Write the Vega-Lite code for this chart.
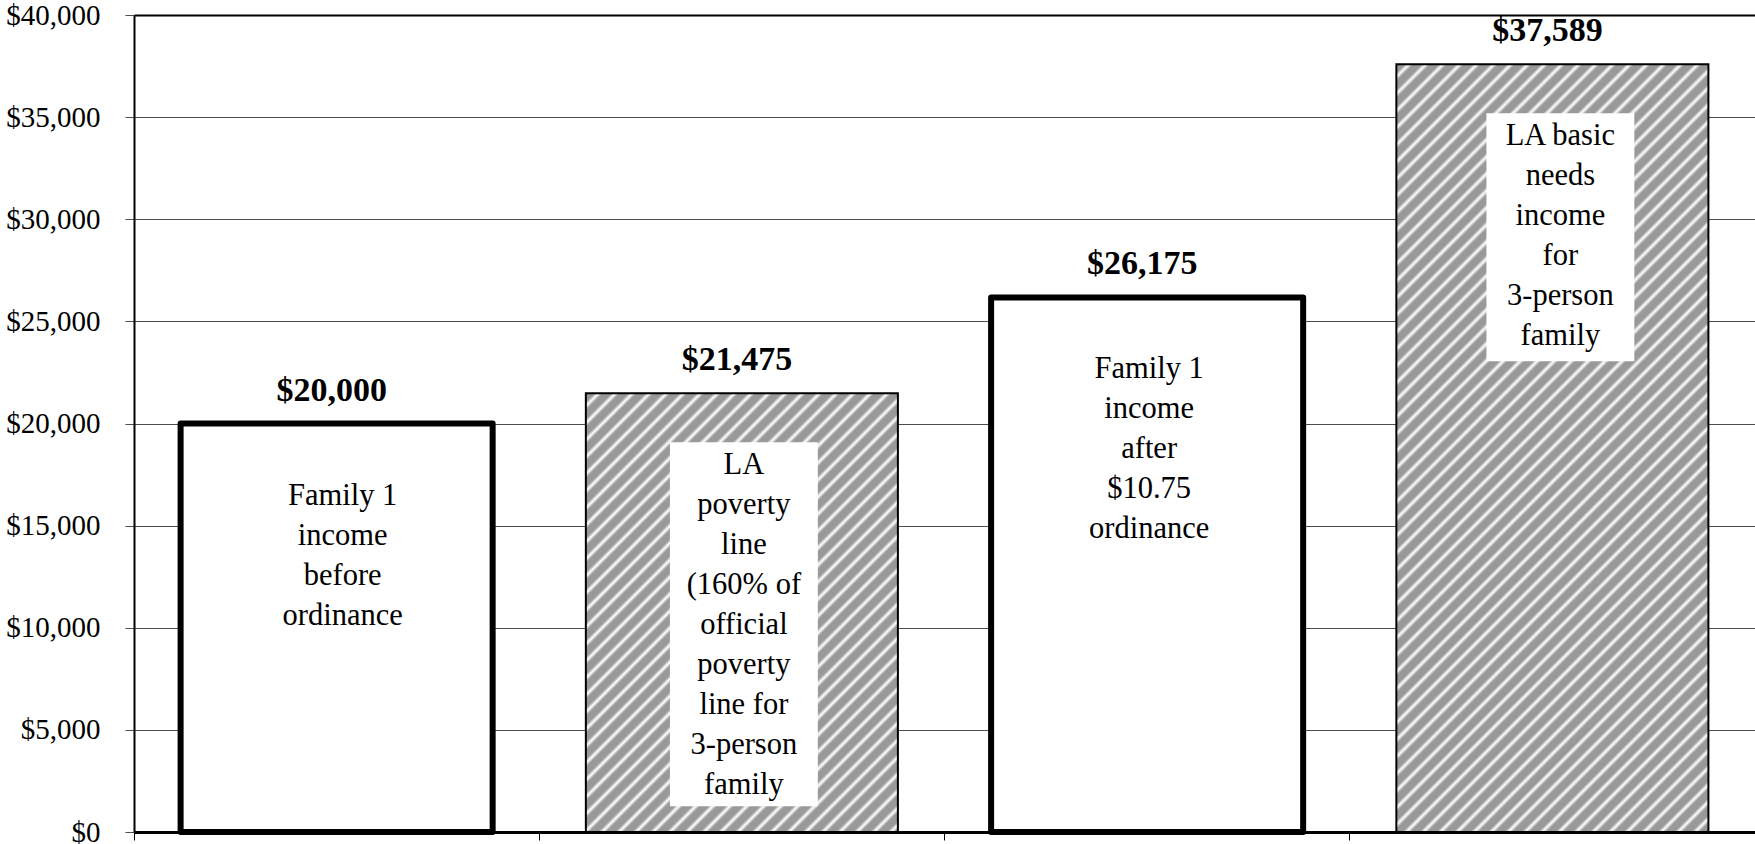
{
  "$schema": "https://vega.github.io/schema/vega-lite/v6.json",
  "width": 1621,
  "height": 817,
  "autosize": {"type": "none"},
  "padding": {"left": 134, "top": 15, "right": 0, "bottom": 12},
  "background": "white",
  "config": {"view": {"stroke": null}, "font": "Liberation Serif"},
  "data": {
    "values": [
      {"category": "Family 1 income before ordinance", "kind": "family", "value": 20000, "label": "Family 1\nincome\nbefore\nordinance"},
      {"category": "LA poverty line", "kind": "benchmark", "value": 21475, "label": "LA\npoverty\nline\n(160% of\nofficial\npoverty\nline for\n3-person\nfamily"},
      {"category": "Family 1 income after $10.75 ordinance", "kind": "family", "value": 26175, "label": "Family 1\nincome\nafter\n$10.75\nordinance"},
      {"category": "LA basic needs income", "kind": "benchmark", "value": 37589, "label": "LA basic\nneeds\nincome\nfor\n3-person\nfamily"}
    ]
  },
  "encoding": {
    "x": {
      "field": "category", "type": "nominal", "sort": null,
      "scale": {"domain": ["Family 1 income before ordinance", "LA poverty line", "Family 1 income after $10.75 ordinance", "LA basic needs income"], "paddingInner": 0, "paddingOuter": 0},
      "axis": {"title": null, "labels": false, "bandPosition": 0, "ticks": true, "tickSize": 8, "tickColor": "black", "tickWidth": 1, "domainColor": "black", "domainWidth": 3, "grid": false}
    },
    "y": {
      "field": "value", "type": "quantitative",
      "scale": {"domain": [0, 40000], "nice": false, "zero": true},
      "axis": {
        "title": null,
        "values": [0, 5000, 10000, 15000, 20000, 25000, 30000, 35000, 40000],
        "format": "$,.0f",
        "labelFont": "Liberation Serif", "labelFontSize": 29, "labelColor": "black",
        "labelPadding": 25, "labelFlush": false, "labelOverlap": false,
        "tickSize": 9, "tickColor": "#4d4d4d",
        "domainColor": "black", "domainWidth": 2,
        "grid": true,
        "gridColor": {"condition": {"test": "datum.value === 40000", "value": "black"}, "value": "#4d4d4d"},
        "gridWidth": {"condition": {"test": "datum.value === 40000", "value": 2}, "value": 1}
      }
    }
  },
  "layer": [
    {
      "transform": [{"filter": "datum.kind === 'family'"}],
      "mark": {"type": "bar", "width": {"band": 0.77}, "fill": "white", "stroke": "black", "strokeWidth": 6, "strokeJoin": "round"}
    },
    {
      "transform": [{"filter": "datum.category === 'LA poverty line'"}],
      "mark": {
        "type": "bar", "width": {"band": 0.77}, "stroke": "black", "strokeWidth": 2,
        "fill": {
          "gradient": "linear", "x1": 0, "y1": 0, "x2": 1.8312, "y2": 2.5726,
          "stops": [
            {"offset":0,"color":"#999"},{"offset":0.005,"color":"#999"},{"offset":0.0075,"color":"#fff"},
            {"offset":0.01,"color":"#999"},{"offset":0.015,"color":"#999"},{"offset":0.0175,"color":"#fff"},
            {"offset":0.02,"color":"#999"},{"offset":0.025,"color":"#999"},{"offset":0.0275,"color":"#fff"},
            {"offset":0.03,"color":"#999"},{"offset":0.035,"color":"#999"},{"offset":0.0375,"color":"#fff"},
            {"offset":0.04,"color":"#999"},{"offset":0.045,"color":"#999"},{"offset":0.0475,"color":"#fff"},
            {"offset":0.05,"color":"#999"},{"offset":0.055,"color":"#999"},{"offset":0.0575,"color":"#fff"},
            {"offset":0.06,"color":"#999"},{"offset":0.065,"color":"#999"},{"offset":0.0675,"color":"#fff"},
            {"offset":0.07,"color":"#999"},{"offset":0.075,"color":"#999"},{"offset":0.0775,"color":"#fff"},
            {"offset":0.08,"color":"#999"},{"offset":0.085,"color":"#999"},{"offset":0.0875,"color":"#fff"},
            {"offset":0.09,"color":"#999"},{"offset":0.095,"color":"#999"},{"offset":0.0975,"color":"#fff"},
            {"offset":0.1,"color":"#999"},{"offset":0.105,"color":"#999"},{"offset":0.1075,"color":"#fff"},
            {"offset":0.11,"color":"#999"},{"offset":0.115,"color":"#999"},{"offset":0.1175,"color":"#fff"},
            {"offset":0.12,"color":"#999"},{"offset":0.125,"color":"#999"},{"offset":0.1275,"color":"#fff"},
            {"offset":0.13,"color":"#999"},{"offset":0.135,"color":"#999"},{"offset":0.1375,"color":"#fff"},
            {"offset":0.14,"color":"#999"},{"offset":0.145,"color":"#999"},{"offset":0.1475,"color":"#fff"},
            {"offset":0.15,"color":"#999"},{"offset":0.155,"color":"#999"},{"offset":0.1575,"color":"#fff"},
            {"offset":0.16,"color":"#999"},{"offset":0.165,"color":"#999"},{"offset":0.1675,"color":"#fff"},
            {"offset":0.17,"color":"#999"},{"offset":0.175,"color":"#999"},{"offset":0.1775,"color":"#fff"},
            {"offset":0.18,"color":"#999"},{"offset":0.185,"color":"#999"},{"offset":0.1875,"color":"#fff"},
            {"offset":0.19,"color":"#999"},{"offset":0.195,"color":"#999"},{"offset":0.1975,"color":"#fff"},
            {"offset":0.2,"color":"#999"},{"offset":0.205,"color":"#999"},{"offset":0.2075,"color":"#fff"},
            {"offset":0.21,"color":"#999"},{"offset":0.215,"color":"#999"},{"offset":0.2175,"color":"#fff"},
            {"offset":0.22,"color":"#999"},{"offset":0.225,"color":"#999"},{"offset":0.2275,"color":"#fff"},
            {"offset":0.23,"color":"#999"},{"offset":0.235,"color":"#999"},{"offset":0.2375,"color":"#fff"},
            {"offset":0.24,"color":"#999"},{"offset":0.245,"color":"#999"},{"offset":0.2475,"color":"#fff"},
            {"offset":0.25,"color":"#999"},{"offset":0.255,"color":"#999"},{"offset":0.2575,"color":"#fff"},
            {"offset":0.26,"color":"#999"},{"offset":0.265,"color":"#999"},{"offset":0.2675,"color":"#fff"},
            {"offset":0.27,"color":"#999"},{"offset":0.275,"color":"#999"},{"offset":0.2775,"color":"#fff"},
            {"offset":0.28,"color":"#999"},{"offset":0.285,"color":"#999"},{"offset":0.2875,"color":"#fff"},
            {"offset":0.29,"color":"#999"},{"offset":0.295,"color":"#999"},{"offset":0.2975,"color":"#fff"},
            {"offset":0.3,"color":"#999"},{"offset":0.305,"color":"#999"},{"offset":0.3075,"color":"#fff"},
            {"offset":0.31,"color":"#999"},{"offset":0.315,"color":"#999"},{"offset":0.3175,"color":"#fff"},
            {"offset":0.32,"color":"#999"},{"offset":0.325,"color":"#999"},{"offset":0.3275,"color":"#fff"},
            {"offset":0.33,"color":"#999"},{"offset":0.335,"color":"#999"},{"offset":0.3375,"color":"#fff"},
            {"offset":0.34,"color":"#999"},{"offset":0.345,"color":"#999"},{"offset":0.3475,"color":"#fff"},
            {"offset":0.35,"color":"#999"},{"offset":0.355,"color":"#999"},{"offset":0.3575,"color":"#fff"},
            {"offset":0.36,"color":"#999"},{"offset":0.365,"color":"#999"},{"offset":0.3675,"color":"#fff"},
            {"offset":0.37,"color":"#999"},{"offset":0.375,"color":"#999"},{"offset":0.3775,"color":"#fff"},
            {"offset":0.38,"color":"#999"},{"offset":0.385,"color":"#999"},{"offset":0.3875,"color":"#fff"},
            {"offset":0.39,"color":"#999"},{"offset":0.395,"color":"#999"},{"offset":0.3975,"color":"#fff"},
            {"offset":0.4,"color":"#999"},{"offset":0.405,"color":"#999"},{"offset":0.4075,"color":"#fff"},
            {"offset":0.41,"color":"#999"},{"offset":0.415,"color":"#999"},{"offset":0.4175,"color":"#fff"},
            {"offset":0.42,"color":"#999"},{"offset":0.425,"color":"#999"},{"offset":0.4275,"color":"#fff"},
            {"offset":0.43,"color":"#999"},{"offset":0.435,"color":"#999"},{"offset":0.4375,"color":"#fff"},
            {"offset":0.44,"color":"#999"},{"offset":0.445,"color":"#999"},{"offset":0.4475,"color":"#fff"},
            {"offset":0.45,"color":"#999"}
          ]
        }
      }
    },
    {
      "transform": [{"filter": "datum.category === 'LA basic needs income'"}],
      "mark": {
        "type": "bar", "width": {"band": 0.77}, "stroke": "black", "strokeWidth": 2,
        "fill": {
          "gradient": "linear", "x1": 0, "y1": 0, "x2": 0.7726, "y2": 1.9,
          "stops": [
            {"offset":0,"color":"#999"},{"offset":0.005,"color":"#999"},{"offset":0.0075,"color":"#fff"},
            {"offset":0.01,"color":"#999"},{"offset":0.015,"color":"#999"},{"offset":0.0175,"color":"#fff"},
            {"offset":0.02,"color":"#999"},{"offset":0.025,"color":"#999"},{"offset":0.0275,"color":"#fff"},
            {"offset":0.03,"color":"#999"},{"offset":0.035,"color":"#999"},{"offset":0.0375,"color":"#fff"},
            {"offset":0.04,"color":"#999"},{"offset":0.045,"color":"#999"},{"offset":0.0475,"color":"#fff"},
            {"offset":0.05,"color":"#999"},{"offset":0.055,"color":"#999"},{"offset":0.0575,"color":"#fff"},
            {"offset":0.06,"color":"#999"},{"offset":0.065,"color":"#999"},{"offset":0.0675,"color":"#fff"},
            {"offset":0.07,"color":"#999"},{"offset":0.075,"color":"#999"},{"offset":0.0775,"color":"#fff"},
            {"offset":0.08,"color":"#999"},{"offset":0.085,"color":"#999"},{"offset":0.0875,"color":"#fff"},
            {"offset":0.09,"color":"#999"},{"offset":0.095,"color":"#999"},{"offset":0.0975,"color":"#fff"},
            {"offset":0.1,"color":"#999"},{"offset":0.105,"color":"#999"},{"offset":0.1075,"color":"#fff"},
            {"offset":0.11,"color":"#999"},{"offset":0.115,"color":"#999"},{"offset":0.1175,"color":"#fff"},
            {"offset":0.12,"color":"#999"},{"offset":0.125,"color":"#999"},{"offset":0.1275,"color":"#fff"},
            {"offset":0.13,"color":"#999"},{"offset":0.135,"color":"#999"},{"offset":0.1375,"color":"#fff"},
            {"offset":0.14,"color":"#999"},{"offset":0.145,"color":"#999"},{"offset":0.1475,"color":"#fff"},
            {"offset":0.15,"color":"#999"},{"offset":0.155,"color":"#999"},{"offset":0.1575,"color":"#fff"},
            {"offset":0.16,"color":"#999"},{"offset":0.165,"color":"#999"},{"offset":0.1675,"color":"#fff"},
            {"offset":0.17,"color":"#999"},{"offset":0.175,"color":"#999"},{"offset":0.1775,"color":"#fff"},
            {"offset":0.18,"color":"#999"},{"offset":0.185,"color":"#999"},{"offset":0.1875,"color":"#fff"},
            {"offset":0.19,"color":"#999"},{"offset":0.195,"color":"#999"},{"offset":0.1975,"color":"#fff"},
            {"offset":0.2,"color":"#999"},{"offset":0.205,"color":"#999"},{"offset":0.2075,"color":"#fff"},
            {"offset":0.21,"color":"#999"},{"offset":0.215,"color":"#999"},{"offset":0.2175,"color":"#fff"},
            {"offset":0.22,"color":"#999"},{"offset":0.225,"color":"#999"},{"offset":0.2275,"color":"#fff"},
            {"offset":0.23,"color":"#999"},{"offset":0.235,"color":"#999"},{"offset":0.2375,"color":"#fff"},
            {"offset":0.24,"color":"#999"},{"offset":0.245,"color":"#999"},{"offset":0.2475,"color":"#fff"},
            {"offset":0.25,"color":"#999"},{"offset":0.255,"color":"#999"},{"offset":0.2575,"color":"#fff"},
            {"offset":0.26,"color":"#999"},{"offset":0.265,"color":"#999"},{"offset":0.2675,"color":"#fff"},
            {"offset":0.27,"color":"#999"},{"offset":0.275,"color":"#999"},{"offset":0.2775,"color":"#fff"},
            {"offset":0.28,"color":"#999"},{"offset":0.285,"color":"#999"},{"offset":0.2875,"color":"#fff"},
            {"offset":0.29,"color":"#999"},{"offset":0.295,"color":"#999"},{"offset":0.2975,"color":"#fff"},
            {"offset":0.3,"color":"#999"},{"offset":0.305,"color":"#999"},{"offset":0.3075,"color":"#fff"},
            {"offset":0.31,"color":"#999"},{"offset":0.315,"color":"#999"},{"offset":0.3175,"color":"#fff"},
            {"offset":0.32,"color":"#999"},{"offset":0.325,"color":"#999"},{"offset":0.3275,"color":"#fff"},
            {"offset":0.33,"color":"#999"},{"offset":0.335,"color":"#999"},{"offset":0.3375,"color":"#fff"},
            {"offset":0.34,"color":"#999"},{"offset":0.345,"color":"#999"},{"offset":0.3475,"color":"#fff"},
            {"offset":0.35,"color":"#999"},{"offset":0.355,"color":"#999"},{"offset":0.3575,"color":"#fff"},
            {"offset":0.36,"color":"#999"},{"offset":0.365,"color":"#999"},{"offset":0.3675,"color":"#fff"},
            {"offset":0.37,"color":"#999"},{"offset":0.375,"color":"#999"},{"offset":0.3775,"color":"#fff"},
            {"offset":0.38,"color":"#999"},{"offset":0.385,"color":"#999"},{"offset":0.3875,"color":"#fff"},
            {"offset":0.39,"color":"#999"},{"offset":0.395,"color":"#999"},{"offset":0.3975,"color":"#fff"},
            {"offset":0.4,"color":"#999"},{"offset":0.405,"color":"#999"},{"offset":0.4075,"color":"#fff"},
            {"offset":0.41,"color":"#999"},{"offset":0.415,"color":"#999"},{"offset":0.4175,"color":"#fff"},
            {"offset":0.42,"color":"#999"},{"offset":0.425,"color":"#999"},{"offset":0.4275,"color":"#fff"},
            {"offset":0.43,"color":"#999"},{"offset":0.435,"color":"#999"},{"offset":0.4375,"color":"#fff"},
            {"offset":0.44,"color":"#999"},{"offset":0.445,"color":"#999"},{"offset":0.4475,"color":"#fff"},
            {"offset":0.45,"color":"#999"},{"offset":0.455,"color":"#999"},{"offset":0.4575,"color":"#fff"},
            {"offset":0.46,"color":"#999"},{"offset":0.465,"color":"#999"},{"offset":0.4675,"color":"#fff"},
            {"offset":0.47,"color":"#999"},{"offset":0.475,"color":"#999"},{"offset":0.4775,"color":"#fff"},
            {"offset":0.48,"color":"#999"},{"offset":0.485,"color":"#999"},{"offset":0.4875,"color":"#fff"},
            {"offset":0.49,"color":"#999"},{"offset":0.495,"color":"#999"},{"offset":0.4975,"color":"#fff"},
            {"offset":0.5,"color":"#999"},{"offset":0.505,"color":"#999"},{"offset":0.5075,"color":"#fff"},
            {"offset":0.51,"color":"#999"},{"offset":0.515,"color":"#999"},{"offset":0.5175,"color":"#fff"},
            {"offset":0.52,"color":"#999"},{"offset":0.525,"color":"#999"},{"offset":0.5275,"color":"#fff"},
            {"offset":0.53,"color":"#999"},{"offset":0.535,"color":"#999"},{"offset":0.5375,"color":"#fff"},
            {"offset":0.54,"color":"#999"},{"offset":0.545,"color":"#999"},{"offset":0.5475,"color":"#fff"},
            {"offset":0.55,"color":"#999"},{"offset":0.555,"color":"#999"},{"offset":0.5575,"color":"#fff"},
            {"offset":0.56,"color":"#999"},{"offset":0.565,"color":"#999"},{"offset":0.5675,"color":"#fff"},
            {"offset":0.57,"color":"#999"},{"offset":0.575,"color":"#999"},{"offset":0.5775,"color":"#fff"},
            {"offset":0.58,"color":"#999"},{"offset":0.585,"color":"#999"},{"offset":0.5875,"color":"#fff"},
            {"offset":0.59,"color":"#999"},{"offset":0.595,"color":"#999"},{"offset":0.5975,"color":"#fff"},
            {"offset":0.6,"color":"#999"},{"offset":0.605,"color":"#999"},{"offset":0.6075,"color":"#fff"},
            {"offset":0.61,"color":"#999"},{"offset":0.615,"color":"#999"},{"offset":0.6175,"color":"#fff"},
            {"offset":0.62,"color":"#999"},{"offset":0.625,"color":"#999"},{"offset":0.6275,"color":"#fff"},
            {"offset":0.63,"color":"#999"},{"offset":0.635,"color":"#999"},{"offset":0.6375,"color":"#fff"},
            {"offset":0.64,"color":"#999"}
          ]
        }
      }
    },
    {
      "transform": [{"filter": "datum.category === 'LA poverty line'"}],
      "mark": {"type": "bar", "width": {"band": 0.365}, "fill": "white", "xOffset": 2, "yOffset": 49, "y2Offset": 413},
      "encoding": {"y2": {"field": "value"}}
    },
    {
      "transform": [{"filter": "datum.category === 'LA basic needs income'"}],
      "mark": {"type": "bar", "width": {"band": 0.365}, "fill": "white", "xOffset": 8, "yOffset": 49, "y2Offset": 297},
      "encoding": {"y2": {"field": "value"}}
    },
    {
      "mark": {"type": "text", "dy": -23, "dx": -5, "baseline": "alphabetic", "align": "center", "font": "Liberation Serif", "fontSize": 34, "fontWeight": "bold", "color": "black"},
      "encoding": {"text": {"field": "value", "type": "quantitative", "format": "$,.0f"}}
    },
    {
      "transform": [{"filter": "datum.category === 'Family 1 income before ordinance'"}],
      "mark": {"type": "text", "dy": 81, "dx": 6, "baseline": "alphabetic", "align": "center", "lineBreak": "\n", "lineHeight": 40, "font": "Liberation Serif", "fontSize": 30.5, "color": "black"},
      "encoding": {"text": {"field": "label", "type": "nominal"}}
    },
    {
      "transform": [{"filter": "datum.category === 'LA poverty line'"}],
      "mark": {"type": "text", "dy": 81, "dx": 2, "baseline": "alphabetic", "align": "center", "lineBreak": "\n", "lineHeight": 40, "font": "Liberation Serif", "fontSize": 30.5, "color": "black"},
      "encoding": {"text": {"field": "label", "type": "nominal"}}
    },
    {
      "transform": [{"filter": "datum.category === 'Family 1 income after $10.75 ordinance'"}],
      "mark": {"type": "text", "dy": 81, "dx": 2, "baseline": "alphabetic", "align": "center", "lineBreak": "\n", "lineHeight": 40, "font": "Liberation Serif", "fontSize": 30.5, "color": "black"},
      "encoding": {"text": {"field": "label", "type": "nominal"}}
    },
    {
      "transform": [{"filter": "datum.category === 'LA basic needs income'"}],
      "mark": {"type": "text", "dy": 81, "dx": 8, "baseline": "alphabetic", "align": "center", "lineBreak": "\n", "lineHeight": 40, "font": "Liberation Serif", "fontSize": 30.5, "color": "black"},
      "encoding": {"text": {"field": "label", "type": "nominal"}}
    }
  ]
}
